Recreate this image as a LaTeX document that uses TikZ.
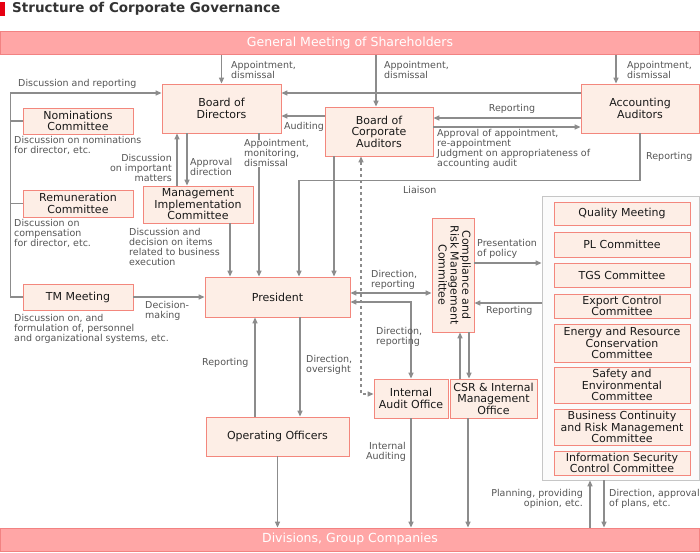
\documentclass[tikz,border=0pt]{standalone}
\usepackage{fontspec}
\setmainfont{DejaVu Sans}
\usetikzlibrary{arrows.meta}
\definecolor{linegray}{RGB}{140,140,140}
\definecolor{boxfill}{RGB}{253,238,230}
\definecolor{boxline}{RGB}{243,135,125}
\definecolor{bandfill}{RGB}{255,166,166}
\definecolor{bandline}{RGB}{242,130,130}
\definecolor{notegray}{RGB}{85,85,85}
\definecolor{titlered}{RGB}{230,0,18}
\definecolor{titletext}{RGB}{51,51,51}
\begin{document}
\begin{tikzpicture}[x=1pt,y=-1pt,
    >={Triangle[length=6pt,width=5pt]},
    box/.style={draw=boxline,fill=boxfill,line width=0.8pt,align=center,inner sep=1pt,
      text=black!90,font=\fontsize{11}{11.5}\selectfont},
    band/.style={draw=bandline,fill=bandfill,line width=0.8pt,text=white,
      minimum width=699pt,minimum height=23pt,font=\fontsize{12.5}{14}\selectfont},
    note/.style={inner sep=0pt,align=left,text=notegray,font=\fontsize{9.5}{9.8}\selectfont},
    link/.style={draw=linegray,line width=1.3pt,->}]
  \useasboundingbox (0,0) rectangle (700,552);
  \fill[titlered] (0,2) rectangle (5,16);
  \node[anchor=west,inner sep=0pt,text=titletext,font=\fontsize{13.5}{15}\selectfont\bfseries]
    (title) at (12,9) {Structure of Corporate Governance};
  \node[band] (gm) at (350,43) {General Meeting of Shareholders};
  \node[band] (div) at (350,539.5) {Divisions, Group Companies};
  \node[box,minimum width=119pt,minimum height=49pt] (bod) at (221.5,108.5) {Board of\\Directors};
  \node[box,minimum width=110pt,minimum height=26pt] (nom) at (78,121) {Nominations\\Committee};
  \node[box,minimum width=110pt,minimum height=27pt] (rem) at (78,203.5) {Remuneration\\Committee};
  \node[box,minimum width=110pt,minimum height=26pt] (tm) at (78,297) {TM Meeting};
  \node[box,minimum width=110pt,minimum height=37pt] (mic) at (198,204.5) {Management\\Implementation\\Committee};
  \node[box,minimum width=145pt,minimum height=40pt] (pres) at (277.5,297) {President};
  \node[box,minimum width=108pt,minimum height=49pt] (bca) at (379,131.5) {Board of\\Corporate\\Auditors};
  \node[box,minimum width=118pt,minimum height=49pt] (acc) at (640,108.5) {Accounting\\Auditors};
  \node[box,minimum width=42pt,minimum height=114pt] (crm) at (453,275)
    {\rotatebox{-90}{\begin{tabular}{@{}c@{}}Compliance and\\Risk Management\\Committee\end{tabular}}};
  \node[draw=gray!45,fill=gray!3,line width=0.8pt,inner sep=0pt,
    minimum width=157pt,minimum height=284pt] (grp) at (620.5,338) {};
  \node[box,minimum width=136pt,minimum height=23pt] (qm) at (622,213.5) {Quality Meeting};
  \node[box,minimum width=136pt,minimum height=25pt] (pl) at (622,244.5) {PL Committee};
  \node[box,minimum width=136pt,minimum height=24pt] (tgs) at (622,275) {TGS Committee};
  \node[box,minimum width=136pt,minimum height=24pt] (exp) at (622,306) {Export Control\\Committee};
  \node[box,minimum width=136pt,minimum height=38pt] (ene) at (622,343) {Energy and Resource\\Conservation\\Committee};
  \node[box,minimum width=136pt,minimum height=36pt] (saf) at (622,385) {Safety and\\Environmental\\Committee};
  \node[box,minimum width=136pt,minimum height=36pt] (bcr) at (622,427) {Business Continuity\\and Risk Management\\Committee};
  \node[box,minimum width=136pt,minimum height=24pt] (isc) at (622,463) {Information Security\\Control Committee};
  \node[box,minimum width=74pt,minimum height=39pt] (iao) at (411,398.5) {Internal\\Audit Office};
  \node[box,minimum width=87pt,minimum height=39pt] (csr) at (493.5,398.5) {CSR \& Internal\\Management\\Office};
  \node[box,minimum width=143pt,minimum height=39pt] (oo) at (277.5,436.5) {Operating Officers};
  \begin{scope}[link]
    \draw (gm.south -| bod.north) -- (bod.north);
    \draw ([xshift=-3pt]bca.north |- gm.south) -- ([xshift=-3pt]bca.north);
    \draw ([xshift=-24pt]acc.north |- gm.south) -- ([xshift=-24pt]acc.north);
    \draw ([yshift=15.5pt]acc.west) -- ([yshift=15.5pt]bod.east);
    \draw ([yshift=15.5pt]bca.west) -- ([yshift=15.5pt]bca.west -| bod.east);
    \draw ([yshift=-9.5pt]acc.west) -- ([yshift=-9.5pt]acc.west -| bca.east);
    \draw ([yshift=-18.5pt]acc.west -| bca.east) -- ([yshift=-18.5pt]acc.west);
    \draw (acc.south) -- ++(0,47) -| ([xshift=21.5pt]pres.north);
    \draw ([xshift=-45pt]bca.south) -- ([xshift=-45pt]bca.south |- pres.north);
    \draw[<->,dashed] ([xshift=-18pt]bca.south) |- ([yshift=4.5pt]iao.west);
    \draw ([xshift=37.5pt]bod.south) -- ([xshift=37.5pt]bod.south |- pres.north);
    \draw ([xshift=-21pt]mic.north) -- ([xshift=-21pt]mic.north |- bod.south);
    \draw ([xshift=-11pt]mic.north |- bod.south) -- ([xshift=-11pt]mic.north);
    \draw ([xshift=32pt]mic.south) -- ([xshift=32pt]mic.south |- pres.north);
    \draw (tm.west) -- ++(-12,0) |- ([yshift=15.5pt]bod.west);
    \draw[-] (nom.west) -- ++(-12,0);
    \draw[-] (rem.west) -- ++(-12,0);
    \draw (tm.east) -- (pres.west);
    \draw[<->] ([yshift=4pt]pres.east) -- ([yshift=4pt]pres.east -| crm.west);
    \draw[<->] ([yshift=-5pt]pres.east) -| (iao.north);
    \draw ([xshift=22.5pt]pres.south) -- ([xshift=22.5pt]pres.south |- oo.north);
    \draw ([xshift=-22.5pt]oo.north) -- ([xshift=-22.5pt]oo.north |- pres.south);
    \draw (oo.south) -- (oo.south |- div.north);
    \draw (iao.south) -- (iao.south |- div.north);
    \draw ([xshift=-25.5pt]csr.south) -- ([xshift=-25.5pt]csr.south |- div.north);
    \draw ([xshift=7pt]crm.south |- csr.north) -- ([xshift=7pt]crm.south);
    \draw ([xshift=16pt]crm.south) -- ([xshift=16pt]crm.south |- csr.north);
    \draw ([yshift=12pt]crm.east) -- ([yshift=12pt]crm.east -| grp.west);
    \draw ([yshift=-28pt]crm.east -| grp.west) -- ([yshift=-28pt]crm.east);
    \draw ([xshift=-30.5pt]grp.south |- div.north) -- ([xshift=-30.5pt]grp.south);
    \draw ([xshift=-16.5pt]grp.south) -- ([xshift=-16.5pt]grp.south |- div.north);
  \end{scope}
  \node[note,anchor=north west] (n1) at (231,61) {Appointment,\\dismissal};
  \node[note,anchor=north west] (n2) at (384,61) {Appointment,\\dismissal};
  \node[note,anchor=north west] (n3) at (627,61) {Appointment,\\dismissal};
  \node[note,anchor=west] (n4) at (18,84) {Discussion and reporting};
  \node[note,anchor=north west] (n5) at (14,136.5) {Discussion on nominations\\for director, etc.};
  \node[note,anchor=north west] (n6) at (14,219.5) {Discussion on\\compensation\\for director, etc.};
  \node[note,anchor=north west] (n7) at (14,314.5) {Discussion on, and\\formulation of, personnel\\and organizational systems, etc.};
  \node[note,anchor=north east,align=right] (n8) at (172,154.5) {Discussion\\on important\\matters};
  \node[note,anchor=north west] (n9) at (190,158.5) {Approval\\direction};
  \node[note,anchor=north west,fill=white] (n10) at (244,139.5) {Appointment,\\monitoring,\\dismissal};
  \node[note,anchor=west] (n11) at (284,127) {Auditing};
  \node[note] (n12) at (512,109) {Reporting};
  \node[note,anchor=north west] (n13) at (437,129.5) {Approval of appointment,\\re-appointment\\Judgment on appropriateness of\\accounting audit};
  \node[note,anchor=west] (n14) at (646,157) {Reporting};
  \node[note,anchor=west] (n15) at (403,190) {Liaison};
  \node[note,anchor=north west] (n16) at (129,228.5) {Discussion and\\decision on items\\related to business\\execution};
  \node[note,anchor=north west] (n17) at (145,301.5) {Decision-\\making};
  \node[note,anchor=north west] (n18) at (371,270.5) {Direction,\\reporting};
  \node[note,anchor=north west] (n19) at (376,327.5) {Direction,\\reporting};
  \node[note,anchor=north west] (n20) at (477,239.5) {Presentation\\of policy};
  \node[note,anchor=west] (n21) at (486,311) {Reporting};
  \node[note,anchor=west] (n22) at (202,363) {Reporting};
  \node[note,anchor=north west] (n23) at (306,355.5) {Direction,\\oversight};
  \node[note,anchor=north east,align=right] (n24) at (406,442.5) {Internal\\Auditing};
  \node[note,anchor=north east,align=right] (n25) at (583,489.5) {Planning, providing\\opinion, etc.};
  \node[note,anchor=north west] (n26) at (609,489.5) {Direction, approval\\of plans, etc.};
\end{tikzpicture}
\end{document}
